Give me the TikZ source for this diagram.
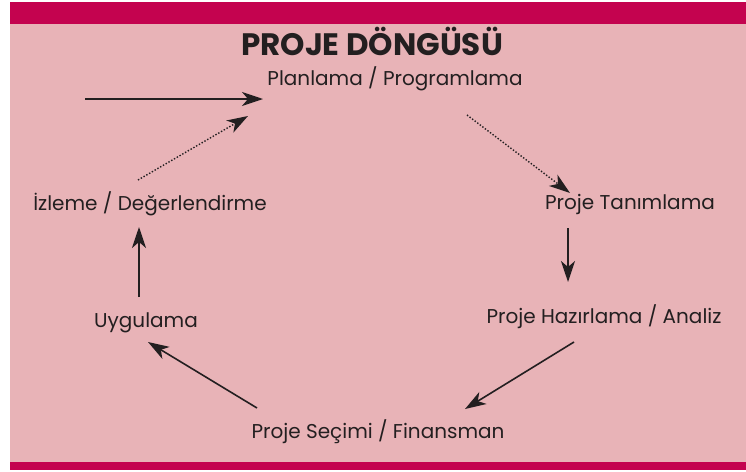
\documentclass[tikz,border=0pt]{standalone}
\usepackage{fontspec}
\setmainfont{Poppins}
\usepackage{xcolor}
\usepackage{tikz}
\usetikzlibrary{arrows,arrows.meta,positioning,calc}
\definecolor{bandred}{HTML}{C4034F}
\definecolor{panelpink}{HTML}{E8B3B7}
\definecolor{inkdark}{HTML}{231F20}
\tikzset{
  stage/.style={inner sep=0pt, anchor=base, text=inkdark, font=\fontsize{20}{24}\selectfont},
  flow/.style={-{Stealth[length=21pt,width=14pt,inset=6pt]}, line width=1.6pt, draw=inkdark},
  dotflow/.style={flow, line width=1.4pt, dash pattern=on 1.4pt off 1.8pt}
}

\begin{document}
\begin{tikzpicture}[x=1pt,y=-1pt]
    \useasboundingbox (0,0) rectangle (746,471);

    % Panel with top and bottom bands
    \fill[panelpink] (10,24) rectangle (746,462);
    \fill[bandred] (10,2) rectangle (746,24);
    \fill[bandred] (10,462) rectangle (746,470);

    % Title
    \node[inner sep=0pt, anchor=base, text=inkdark, font=\fontsize{31}{36}\selectfont\bfseries] (baslik) at (372,55) {PROJE DÖNGÜSÜ};

    % Stages of the cycle
    \node[stage] (plan) at (395,85) {Planlama / Programlama};
    \node[stage] (tanim) at (630,209) {Proje Tanımlama};
    \node[stage] (hazir) at (604,323) {Proje Hazırlama / Analiz};
    \node[stage] (secim) at (378,438) {Proje Seçimi / Finansman};
    \node[stage] (uygu) at (146,327) {Uygulama};
    \node[stage] (izle) at (150,210) {İzleme / Değerlendirme};
    \coordinate (giris) at (85,99);

    % Arrows between stages
    \draw[flow] (giris) -- ([shift={(-132,14)}]plan.base);
    \draw[dotflow] ([shift={(72,30)}]plan.base) -- ([shift={(-60,-16)}]tanim.base);
    \draw[flow] ([shift={(-62,19)}]tanim.base) -- ([shift={(-62,-41)}]hazir.base -| tanim.base);
    \draw[flow] ([shift={(-30,19)}]hazir.base) -- ([shift={(87,-29)}]secim.base);
    \draw[flow] ([shift={(-121,-30)}]secim.base) -- ([shift={(2,15)}]uygu.base);
    \draw[flow] ([shift={(-7,-30)}]uygu.base) -- ([shift={(-11,17)}]izle.base);
    \draw[dotflow] ([shift={(-12,-30)}]izle.base) -- ([shift={(-147,31)}]plan.base);
\end{tikzpicture}
\end{document}
